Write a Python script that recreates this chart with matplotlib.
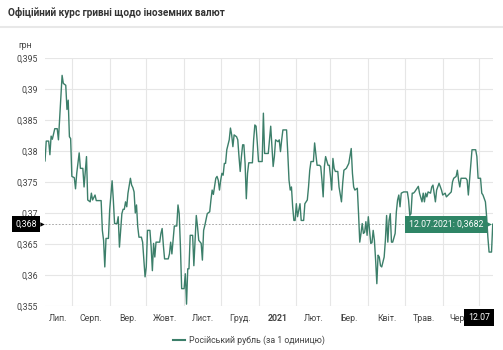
import numpy as np
import pandas as pd
import matplotlib
matplotlib.use("Agg")
import matplotlib.pyplot as plt
from matplotlib.lines import Line2D
from matplotlib.transforms import offset_copy

plt.rcParams['font.family'] = ['Roboto', 'DejaVu Sans']

# NBU official rate of the Russian rouble, UAH per 1 RUB
start = pd.Timestamp("2020-07-01")
day_offset = [
    9, 10, 12, 13, 14, 15, 17, 19, 20, 23, 24, 26, 27, 28, 29, 30, 31, 33, 34, 35,
    37, 38, 40, 41, 43, 44, 46, 47, 48, 50, 51, 55, 56, 57, 58, 59, 61, 62, 64, 65,
    66, 68, 69, 70, 72, 73, 74, 75, 76, 77, 79, 80, 81, 82, 83, 84, 85, 86, 88, 89,
    90, 91, 92, 93, 95, 96, 97, 98, 99, 100, 103, 104, 105, 106, 107, 110, 111, 112, 113, 114,
    115, 117, 118, 119, 120, 121, 123, 124, 125, 126, 127, 128, 130, 131, 133, 134, 135, 137, 138, 139,
    140, 142, 144, 145, 146, 147, 149, 150, 151, 152, 153, 154, 155, 156, 157, 158, 160, 161, 162, 163,
    164, 166, 167, 168, 169, 170, 171, 172, 173, 174, 175, 176, 179, 180, 181, 182, 183, 184, 187, 188,
    189, 192, 194, 196, 197, 198, 200, 201, 202, 203, 204, 207, 208, 209, 210, 211, 212, 213, 214, 215,
    216, 218, 219, 221, 222, 224, 225, 226, 227, 229, 230, 232, 234, 235, 236, 237, 238, 239, 241, 242,
    243, 244, 245, 246, 247, 249, 250, 252, 253, 254, 256, 258, 260, 261, 262, 263, 265, 266, 267, 268,
    269, 270, 271, 272, 273, 274, 275, 276, 277, 278, 279, 280, 281, 282, 283, 284, 285, 287, 288, 289,
    290, 291, 292, 293, 294, 296, 297, 298, 299, 300, 301, 303, 306, 307, 308, 309, 310, 311, 312, 315,
    316, 318, 319, 320, 321, 322, 323, 325, 326, 327, 329, 330, 332, 334, 335, 337, 338, 341, 342, 343,
    344, 346, 347, 348, 349, 350, 354, 355, 356, 357, 359, 362, 363, 364, 366, 367, 368, 370, 371, 372,
    373, 375, 376,
]
rate = [
    0.3784, 0.3816, 0.3816, 0.3794, 0.3824, 0.3819, 0.3836, 0.3836, 0.3818, 0.3922,
    0.3909, 0.3906, 0.3867, 0.3882, 0.3823, 0.3820, 0.3759, 0.3757, 0.3739, 0.3764,
    0.3797, 0.3772, 0.3772, 0.3742, 0.3791, 0.3721, 0.3718, 0.3732, 0.3721, 0.3729,
    0.3720, 0.3720, 0.3672, 0.3656, 0.3613, 0.3659, 0.3659, 0.3705, 0.3752, 0.3721,
    0.3683, 0.3683, 0.3694, 0.3645, 0.3699, 0.3706, 0.3706, 0.3718, 0.3710, 0.3732,
    0.3756, 0.3745, 0.3741, 0.3734, 0.3700, 0.3713, 0.3678, 0.3661, 0.3661, 0.3653,
    0.3624, 0.3597, 0.3613, 0.3672, 0.3672, 0.3645, 0.3607, 0.3651, 0.3629, 0.3653,
    0.3653, 0.3667, 0.3675, 0.3648, 0.3626, 0.3626, 0.3634, 0.3653, 0.3634, 0.3656,
    0.3679, 0.3679, 0.3713, 0.3699, 0.3645, 0.3578, 0.3578, 0.3602, 0.3553, 0.3610,
    0.3610, 0.3664, 0.3664, 0.3615, 0.3696, 0.3678, 0.3656, 0.3651, 0.3624, 0.3672,
    0.3680, 0.3699, 0.3702, 0.3721, 0.3737, 0.3730, 0.3756, 0.3759, 0.3753, 0.3737,
    0.3753, 0.3764, 0.3761, 0.3780, 0.3780, 0.3802, 0.3818, 0.3837, 0.3826, 0.3807,
    0.3826, 0.3823, 0.3818, 0.3791, 0.3767, 0.3791, 0.3810, 0.3810, 0.3780, 0.3723,
    0.3764, 0.3781, 0.3781, 0.3818, 0.3842, 0.3840, 0.3813, 0.3783, 0.3783, 0.3861,
    0.3796, 0.3796, 0.3840, 0.3775, 0.3791, 0.3818, 0.3815, 0.3818, 0.3799, 0.3818,
    0.3834, 0.3834, 0.3796, 0.3753, 0.3737, 0.3742, 0.3710, 0.3688, 0.3688, 0.3715,
    0.3694, 0.3715, 0.3688, 0.3688, 0.3715, 0.3721, 0.3742, 0.3769, 0.3783, 0.3783,
    0.3813, 0.3777, 0.3777, 0.3775, 0.3753, 0.3726, 0.3775, 0.3791, 0.3777, 0.3777,
    0.3759, 0.3737, 0.3788, 0.3772, 0.3767, 0.3767, 0.3742, 0.3718, 0.3748, 0.3769,
    0.3772, 0.3780, 0.3804, 0.3764, 0.3742, 0.3737, 0.3740, 0.3699, 0.3653, 0.3667,
    0.3683, 0.3667, 0.3669, 0.3686, 0.3664, 0.3694, 0.3672, 0.3651, 0.3652, 0.3672,
    0.3656, 0.3624, 0.3586, 0.3632, 0.3629, 0.3615, 0.3613, 0.3629, 0.3656, 0.3696,
    0.3653, 0.3688, 0.3699, 0.3653, 0.3653, 0.3667, 0.3702, 0.3721, 0.3729, 0.3710,
    0.3732, 0.3734, 0.3734, 0.3721, 0.3696, 0.3699, 0.3732, 0.3732, 0.3734, 0.3743,
    0.3732, 0.3718, 0.3732, 0.3718, 0.3732, 0.3726, 0.3734, 0.3732, 0.3742, 0.3745,
    0.3718, 0.3737, 0.3748, 0.3737, 0.3729, 0.3732, 0.3726, 0.3732, 0.3734, 0.3750,
    0.3756, 0.3759, 0.3769, 0.3753, 0.3742, 0.3756, 0.3756, 0.3753, 0.3729, 0.3753,
    0.3802, 0.3802, 0.3791, 0.3756, 0.3756, 0.3732, 0.3729, 0.3718, 0.3694, 0.3661,
    0.3637, 0.3637, 0.3682,
]
# July 2021 sits under the date flag, so only months up to June get a label
month_labels = ["Лип.", "Серп.", "Вер.", "Жовт.", "Лист.", "Груд.", "2021",
                "Лют.", "Бер.", "Квіт.", "Трав.", "Черв."]
y_ticks = [0.355, 0.36, 0.365, 0.37, 0.375, 0.38, 0.385, 0.39, 0.395]
last_value = 0.3682
last_tip = "12.07.2021: 0,3682"
last_day = "12.07"
series_name = "Російський рубль (за 1 одиницю)"
title = "Офіційний курс гривні щодо іноземних валют"

line_color = "#3c7f6a"
tip_color = "#2f8566"
grid_color = "#e6e6e6"
text_color = "#444444"

dates = start + pd.to_timedelta(day_offset, unit="D")

fig = plt.figure(figsize=(5.03, 3.5), dpi=100)
ax = fig.add_axes([0.0895, 0.1257, 0.8901, 0.7086])
ax.plot(dates, rate, color=line_color, lw=1.0, zorder=3)
ax.set_xlim(dates[0], dates[-1])
ax.set_ylim(0.355, 0.395)

ax.set_yticks(y_ticks)
ax.set_yticklabels([f"{v:.3f}".rstrip("0").replace(".", ",") for v in y_ticks])

# gridlines at month starts, labels centred on the visible part of each month
month_starts = pd.date_range("2020-08-01", "2021-07-01", freq="MS")
edges = [dates[0]] + list(month_starts) + [dates[-1]]
label_pos = [a + (b - a) / 2 for a, b in zip(edges[:-1], edges[1:])]
ax.set_xticks(month_starts)
ax.set_xticklabels([])
ax.set_xticks(label_pos[:len(month_labels)], minor=True)
ax.set_xticklabels(month_labels, minor=True)
for lbl in ax.get_xticklabels(minor=True):
    if lbl.get_text() == "2021":
        lbl.set_fontweight("bold")
        lbl.set_color("#222222")

ax.grid(True, which="major", color=grid_color, lw=0.8)
ax.tick_params(axis="both", which="both", length=0, labelsize=6.3, colors=text_color)
ax.tick_params(axis="x", which="minor", pad=6)
ax.tick_params(axis="y", pad=5)
for s in ax.spines.values():
    s.set_visible(False)

# crosshair on the last point
ax.axhline(last_value, color="#9a9a9a", lw=0.6, ls=(0, (2, 2)), zorder=2)
ax.axvline(dates[-1], color="#9a9a9a", lw=0.6, ls=(0, (1, 1.5)), zorder=2)

ax.annotate(last_tip, xy=(dates[-1], last_value), xytext=(-7, 0),
            textcoords="offset points", ha="right", va="center",
            fontsize=6.3, color="white", zorder=5,
            bbox=dict(boxstyle="square,pad=0.45", fc=tip_color, ec="none"))
tip_arrow = offset_copy(ax.transData, fig=fig, x=-2.6, y=0, units="points")
ax.plot([dates[-1]], [last_value], marker=">", ms=3.5, color=tip_color,
        mec="none", transform=tip_arrow, zorder=5)

ax.annotate(f"{last_value:.3f}".replace(".", ","), xy=(0, last_value),
            xycoords=("axes fraction", "data"), xytext=(-6, 0),
            textcoords="offset points", ha="right", va="center",
            fontsize=6.3, color="white", zorder=5, annotation_clip=False,
            bbox=dict(boxstyle="square,pad=0.4", fc="black", ec="none"))
axis_arrow = offset_copy(ax.get_yaxis_transform(), fig=fig, x=-2.2, y=0, units="points")
ax.plot([0], [last_value], marker=">", ms=3.2, color="black", mec="none",
        transform=axis_arrow, zorder=5, clip_on=False)

ax.annotate(last_day, xy=(1, 0), xycoords="axes fraction", xytext=(-2, -8),
            textcoords="offset points", ha="right", va="center",
            fontsize=6.3, color="white", zorder=5, annotation_clip=False,
            bbox=dict(boxstyle="square,pad=0.45", fc="black", ec="none"))

# header
fig.text(8 / 503, 1 - 13 / 350, title, fontsize=7.2, fontweight="bold",
         color="#333333", va="center", ha="left")
fig.add_artist(Line2D([0, 1], [1 - 27 / 350] * 2, color="#e8e8e8", lw=1.5))
fig.text(18 / 503, 1 - 45 / 350, "грн", fontsize=6.3, color=text_color,
         va="center", ha="left")

# legend
fig.add_artist(Line2D([173 / 503, 185 / 503], [1 - 340 / 350] * 2,
                      color=line_color, lw=1.5))
fig.text(189 / 503, 1 - 340 / 350, series_name, fontsize=6.3,
         color=text_color, va="center", ha="left")

fig.savefig("out.png", dpi=100, facecolor="white")
